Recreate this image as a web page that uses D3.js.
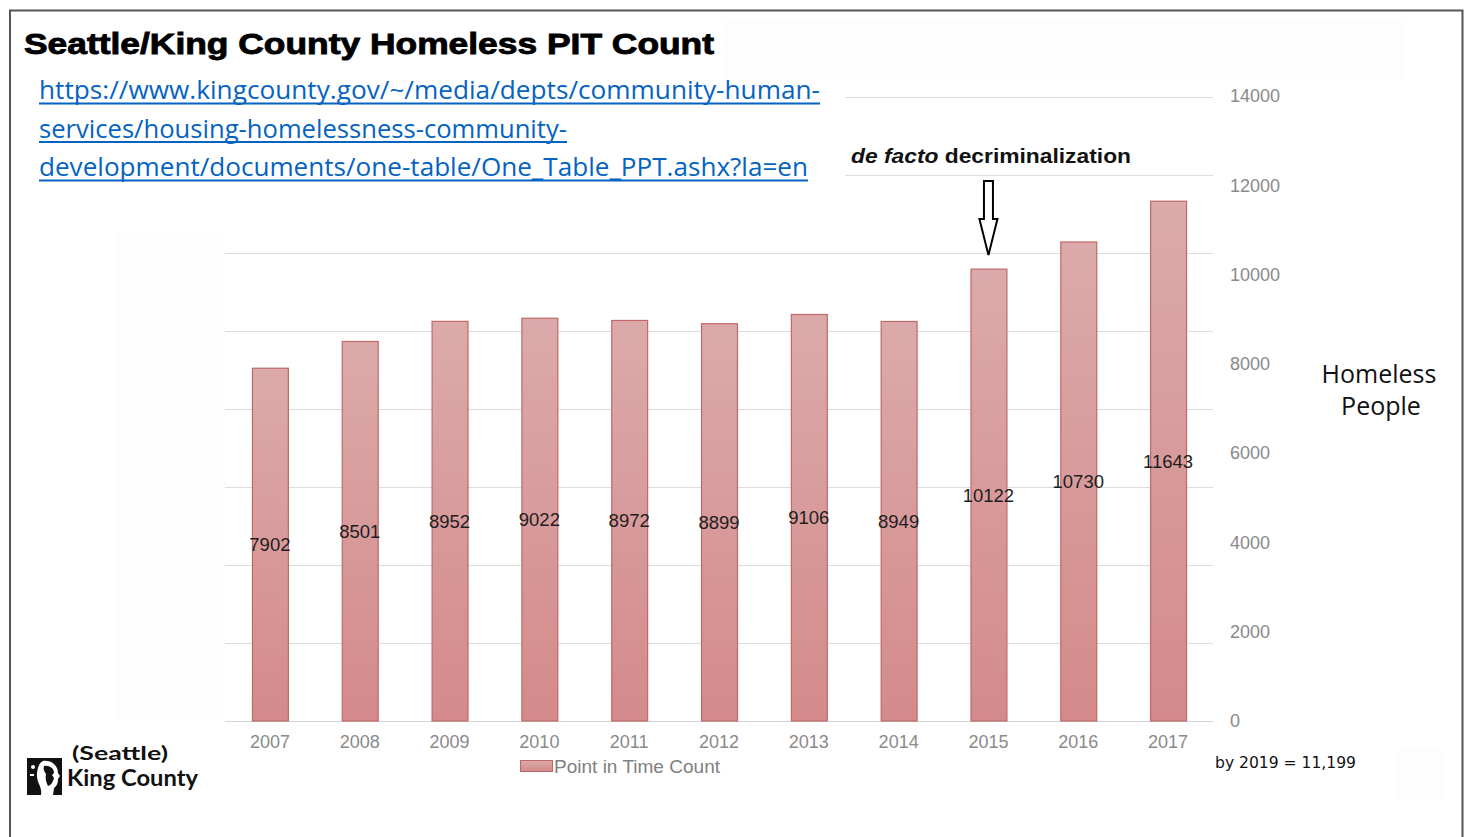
<!DOCTYPE html>
<html>
<head>
<meta charset="utf-8">
<script src="https://cdn.jsdelivr.net/npm/d3@7/dist/d3.min.js"></script>
<style>
  html, body { margin: 0; padding: 0; background: #fff; }
  svg { display: block; }
</style>
</head>
<body>
<svg id="chart" width="1467" height="837"></svg>
<script>
// Seattle / King County point-in-time homeless counts
const years = ["2007","2008","2009","2010","2011","2012","2013","2014","2015","2016","2017"];
const counts = [7902, 8501, 8952, 9022, 8972, 8899, 9106, 8949, 10122, 10730, 11643];
const valueTicks = [0, 2000, 4000, 6000, 8000, 10000, 12000, 14000];
const gridTicks = [0, 2000, 4000, 6000, 8000, 10000, 12000, 14000, 16000];
const linkLines = [
  "https://www.kingcounty.gov/~/media/depts/community-human-",
  "services/housing-homelessness-community-",
  "development/documents/one-table/One_Table_PPT.ashx?la=en"
];
const seriesName = "Point in Time Count";
const markedYear = "2015";

const svg = d3.select("#chart");

// gradient fill for the bars
const defs = svg.append("defs");
const grad = defs.append("linearGradient")
  .attr("id", "barFill").attr("x1", 0).attr("y1", 0).attr("x2", 0).attr("y2", 1);
grad.append("stop").attr("offset", "0%").attr("stop-color", "#dcaaaa");
grad.append("stop").attr("offset", "100%").attr("stop-color", "#d48a8a");

// scales
const x = d3.scaleBand().domain(years).range([225, 1213]).paddingInner(0.6).paddingOuter(0.3);
const y = d3.scaleLinear().domain([0, 14000]).range([721, 96]);
const yGrid = d3.scaleLinear().domain([0, 16000]).range([721, 97]);

// faint panel tints
svg.append("rect").attr("x", 115).attr("y", 232).attr("width", 110).attr("height", 488).attr("fill", "#fdfdfe");
svg.append("rect").attr("x", 725).attr("y", 20).attr("width", 680).attr("height", 58).attr("fill", "#fefdfe");
svg.append("rect").attr("x", 1398).attr("y", 748).attr("width", 44).attr("height", 52).attr("fill", "#fefdfe");

// horizontal grid
svg.append("g").attr("class", "grid")
  .selectAll("line").data(gridTicks).join("line")
  .attr("x1", d => d >= 14000 ? 845 : 225)
  .attr("x2", 1213)
  .attr("y1", d => Math.round(yGrid(d)) + 0.5)
  .attr("y2", d => Math.round(yGrid(d)) + 0.5)
  .attr("stroke", d => d === 0 ? "#d4d4d4" : "#dcdcdc")
  .attr("stroke-width", 1);

// bars
svg.append("g").attr("class", "bars")
  .selectAll("rect").data(years).join("rect")
  .attr("x", d => x(d) + 0.5)
  .attr("y", (d, i) => y(counts[i]))
  .attr("width", x.bandwidth())
  .attr("height", (d, i) => y(0) - y(counts[i]))
  .attr("fill", "url(#barFill)")
  .attr("stroke", "#c06868")
  .attr("stroke-width", 1.2);

// value labels at bar mid-height
svg.append("g").attr("class", "values")
  .selectAll("text").data(years).join("text")
  .attr("x", d => x(d) + x.bandwidth() / 2)
  .attr("y", (d, i) => (y(counts[i]) + y(0)) / 2)
  .attr("text-anchor", "middle")
  .attr("dominant-baseline", "central")
  .attr("font-family", "Liberation Sans, Arial, sans-serif")
  .attr("font-size", 18.5)
  .attr("fill", "#1e1e1e")
  .text((d, i) => counts[i]);

// category axis
const xAxis = svg.append("g").attr("transform", "translate(0,721)")
  .call(d3.axisBottom(x).tickSize(0).tickPadding(14));
xAxis.select(".domain").remove();
xAxis.selectAll("text")
  .attr("font-family", "Liberation Sans, Arial, sans-serif")
  .attr("font-size", 18)
  .attr("fill", "#8a8a8a");

// value axis on the right
const yAxis = svg.append("g").attr("transform", "translate(1230,0)")
  .call(d3.axisRight(y).tickValues(valueTicks).tickSize(0).tickPadding(0).tickFormat(d3.format("d")));
yAxis.select(".domain").remove();
yAxis.selectAll("text")
  .attr("font-family", "Liberation Sans, Arial, sans-serif")
  .attr("font-size", 18)
  .attr("fill", "#8a8a8a");

// axis title, two lines
[["Homeless", 1379, 383], ["People", 1381, 415]].forEach(([t, tx, ty]) => {
  svg.append("text")
    .attr("x", tx).attr("y", ty)
    .attr("text-anchor", "middle")
    .attr("font-family", "Open Sans, sans-serif")
    .attr("font-size", 25)
    .attr("fill", "#111")
    .text(t);
});

// legend
const legend = svg.append("g").attr("transform", "translate(520,760)");
legend.append("rect").attr("x", 0.5).attr("y", 0.5).attr("width", 32).attr("height", 11)
  .attr("fill", "url(#barFill)").attr("stroke", "#c06868");
legend.append("text").attr("x", 34).attr("y", 6).attr("dominant-baseline", "central")
  .attr("font-family", "Liberation Sans Narrow, Arial Narrow, sans-serif")
  .attr("font-size", 19).attr("fill", "#808080")
  .attr("textLength", 166).attr("lengthAdjust", "spacingAndGlyphs")
  .text(seriesName);

// title
svg.append("text")
  .attr("x", 24).attr("y", 54)
  .attr("font-family", "Liberation Sans, Arial, sans-serif")
  .attr("font-weight", "bold").attr("font-size", 30)
  .attr("fill", "#000").attr("stroke", "#000").attr("stroke-width", 0.9)
  .attr("textLength", 690).attr("lengthAdjust", "spacingAndGlyphs")
  .text("Seattle/King County Homeless PIT Count");

// source link
const linkWidths = [781, 528, 769];
const link = svg.append("g");
linkLines.forEach((t, i) => {
  const by = 99 + i * 38.5;
  link.append("text")
    .attr("x", 39).attr("y", by)
    .attr("font-family", "Open Sans, sans-serif")
    .attr("font-size", 25)
    .attr("fill", "#0563c1")
    .attr("textLength", linkWidths[i]).attr("lengthAdjust", "spacingAndGlyphs")
    .text(t);
  link.append("line")
    .attr("x1", 39).attr("x2", 39 + linkWidths[i])
    .attr("y1", by + 4.5).attr("y2", by + 4.5)
    .attr("stroke", "#0563c1").attr("stroke-width", 2);
});

// annotation
const ann = svg.append("text")
  .attr("x", 851).attr("y", 163)
  .attr("font-family", "Liberation Sans, Arial, sans-serif")
  .attr("font-weight", "bold").attr("font-size", 21).attr("fill", "#111")
  .attr("textLength", 280).attr("lengthAdjust", "spacingAndGlyphs");
ann.append("tspan").attr("font-style", "italic").text("de facto");
ann.append("tspan").text(" decriminalization");

// hollow arrow down to the marked year
const ax = x(markedYear) + x.bandwidth() / 2;
const tipY = y(counts[years.indexOf(markedYear)]) - 14;
const arrow = d3.path();
arrow.moveTo(ax - 4.5, 181);
arrow.lineTo(ax + 4.5, 181);
arrow.lineTo(ax + 4.5, 219);
arrow.lineTo(ax + 9, 219);
arrow.lineTo(ax, tipY);
arrow.lineTo(ax - 9, 219);
arrow.lineTo(ax - 4.5, 219);
arrow.closePath();
svg.append("path").attr("d", arrow.toString())
  .attr("fill", "#fff").attr("stroke", "#000").attr("stroke-width", 2).attr("stroke-linejoin", "miter");

// note under the value axis
svg.append("text")
  .attr("x", 1215).attr("y", 768)
  .attr("font-family", "DejaVu Sans, Verdana, sans-serif")
  .attr("font-size", 16).attr("fill", "#111")
  .attr("textLength", 141).attr("lengthAdjust", "spacingAndGlyphs")
  .text("by 2019 = 11,199");

// King County logo
const logo = svg.append("g").attr("transform", "translate(27,758)");
logo.append("rect").attr("width", 35).attr("height", 37).attr("fill", "#111");
logo.append("path")
  .attr("d", "M16,3 C24,2 31,7 31,15 L33,18 L31,21 C31,25 30,28 27,30 L26,37 L14,37 C15,32 13,29 12,26 C10,22 9,16 11,10 C12,6 14,4 16,3 Z")
  .attr("fill", "#fff");
logo.append("path")
  .attr("d", "M17,8 C22,7 27,10 27,15 L25,17 L27,20 C26,24 24,27 21,28 C19,24 18,20 19,16 C17,13 16,11 17,8 Z")
  .attr("fill", "#111");
logo.append("circle").attr("cx", 6).attr("cy", 9).attr("r", 2).attr("fill", "#fff");
logo.append("rect").attr("x", 3).attr("y", 16).attr("width", 4).attr("height", 2).attr("fill", "#fff");
svg.append("text").attr("x", 72).attr("y", 760)
  .attr("font-family", "Lato, sans-serif").attr("font-weight", "bold")
  .attr("font-size", 19).attr("fill", "#111")
  .attr("textLength", 96).attr("lengthAdjust", "spacingAndGlyphs")
  .text("(Seattle)");
svg.append("text").attr("x", 67).attr("y", 786)
  .attr("font-family", "Lato, sans-serif").attr("font-weight", "bold")
  .attr("font-size", 22).attr("fill", "#111")
  .attr("textLength", 131).attr("lengthAdjust", "spacingAndGlyphs")
  .text("King County");

// frame
svg.append("path")
  .attr("d", "M10,837 V10.5 H1462.5 V837")
  .attr("fill", "none").attr("stroke", "#555").attr("stroke-width", 2);
</script>
</body>
</html>
